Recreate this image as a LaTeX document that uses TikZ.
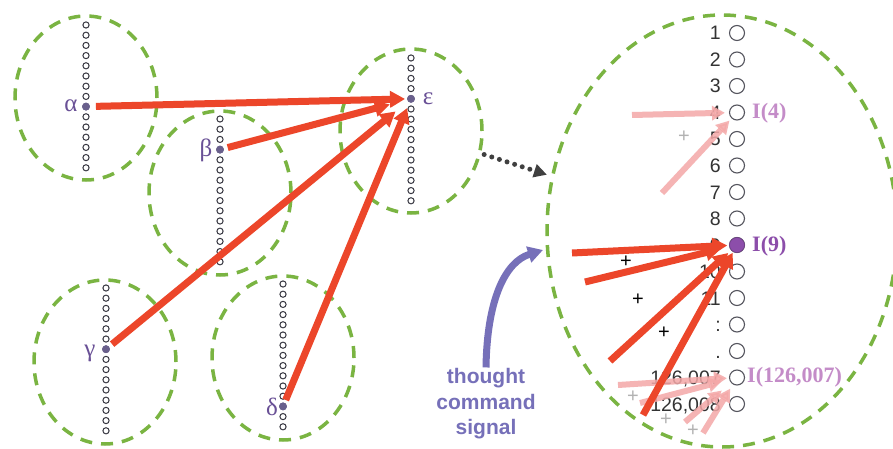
\documentclass[tikz,border=0pt]{standalone}
\usepackage{fontspec}
\setmainfont{Liberation Serif}
\setsansfont{Liberation Sans}
\usetikzlibrary{arrows.meta,shapes.geometric}
\definecolor{grn}{RGB}{122,180,66}
\definecolor{redA}{RGB}{236,70,42}
\definecolor{pinkA}{RGB}{244,168,168}
\definecolor{greek}{RGB}{105,80,150}
\definecolor{bluetxt}{RGB}{118,112,185}
\definecolor{purp}{RGB}{140,78,170}
\definecolor{lpurp}{RGB}{196,140,200}
\definecolor{dotgray}{RGB}{55,55,65}
\definecolor{afill}{RGB}{105,95,140}
\newcommand\dotcol[4]{%
  \foreach \i in {0,...,14}{\node[sdot] at (#1,{#2+10.2*\i}) {};}
  \node[adot] (#4) at (#1,{#2+10.2*#3}) {};}
\begin{document}
\begin{tikzpicture}[x=1pt,y=-1pt,
  region/.style={ellipse, draw=grn, line width=3.5pt, dash pattern=on 12pt off 9pt, inner sep=0pt, outer sep=0pt, minimum width=142pt, minimum height=164pt},
  bigregion/.style={region, minimum width=350pt, minimum height=432pt},
  sdot/.style={circle, draw=dotgray, line width=1pt, inner sep=0pt, minimum size=6.2pt, fill=white},
  adot/.style={circle, fill=afill, draw=afill, inner sep=0pt, minimum size=7.5pt},
  ring/.style={circle, draw=dotgray!85, line width=1.1pt, inner sep=0pt, minimum size=15pt, fill=white},
  greeklab/.style={text=greek, font=\fontsize{25}{25}\selectfont, inner sep=0pt},
  numlab/.style={font=\sffamily\fontsize{19.5}{20}\selectfont, text=black!80, anchor=east, inner sep=0pt, text height=14pt, text depth=0pt},
  ilab/.style={font=\bfseries\fontsize{22}{22}\selectfont, anchor=west, inner sep=0pt},
  redarrow/.style={draw=redA, line width=7pt, -{Triangle[length=15pt,width=16pt]}},
  pinkarrow/.style={draw=pinkA, line width=6pt, opacity=0.85, -{Triangle[length=13pt,width=14pt]}},
  dotarrow/.style={draw=black!75, line width=5pt, line cap=round, dash pattern=on 0pt off 8pt, -{Triangle[length=13pt,width=13pt]}},
  bluearrow/.style={draw=bluetxt, line width=7pt, -{Triangle[length=15pt,width=16pt]}},
  plus/.style={font=\sffamily\fontsize{20}{20}\selectfont, inner sep=0pt, text height=11pt, text depth=0pt},
  sigtext/.style={font=\sffamily\bfseries\fontsize{21}{25.5}\selectfont, text=bluetxt, align=center, inner sep=1pt}]
\useasboundingbox (0,0) rectangle (893,449);
\fill[white] (0,0) rectangle (893,449);

% regions
\node[region] (ca) at (86,98) {};
\node[region] (cb) at (220,193) {};
\node[region] (ce) at (411,131) {};
\node[region] (cg) at (105,362) {};
\node[region] (cd) at (283,358) {};
\node[bigregion] (big) at (722,231) {};

% dot columns
\dotcol{86}{25}{8}{a}
\dotcol{220}{119}{3}{b}
\dotcol{411}{58}{4}{e}
\dotcol{106}{288}{6}{g}
\dotcol{283}{284}{12}{d}

% greek labels
\node[greeklab] at (71,106) {α};
\node[greeklab] at (206,150) {β};
\node[greeklab] at (428,99) {ε};
\node[greeklab] at (90,353) {γ};
\node[greeklab] at (272,407) {δ};

% arrows to epsilon
\draw[redarrow, shorten <=6pt, shorten >=2pt] (a) -- (e);
\draw[redarrow, shorten <=4pt, shorten >=18pt] (b) -- (e);
\draw[redarrow, shorten <=4pt, shorten >=16pt] (g) -- (e);
\draw[redarrow, shorten <=3pt, shorten >=6pt] (d) -- (e);

% dotted arrow
\draw[dotarrow, shorten <=5pt, shorten >=6pt] (ce) -- (big);

% right column
\foreach \i in {1,...,15}{\node[ring] (r\i) at (737,{33+26.5*(\i-1)}) {};}
\node[circle, fill=purp, draw=purp!80!black, line width=0.6pt, inner sep=0pt, minimum size=15pt] (n9) at (r9) {};
\foreach \i/\t in {1/1,2/2,3/3,4/4,5/5,6/6,7/7,8/8,9/9,10/10,11/11,12/:,13/.,14/{126,007},15/{126,008}}{
  \node[numlab] at ([xshift=-8pt]r\i.west) {\t};}
\node[ilab, text=lpurp] at (752,113) {I(4)};
\node[ilab, text=purp] at (752,246) {I(9)};
\node[ilab, text=lpurp] at (747,377) {I(126,007)};

% tails
\coordinate (p1) at (632,115);
\coordinate (p2) at (662,193);
\coordinate (q1) at (572,253);
\coordinate (q2) at (585,282);
\coordinate (q3) at (610,361);
\coordinate (q4) at (643,415);
\coordinate (s1) at (618,385);
\coordinate (s2) at (640,403);
\coordinate (s3) at (685,422);
\coordinate (s4) at (703,433);

% pink arrows
\draw[pinkarrow, shorten >=4pt] (p1) -- (r4);
\draw[pinkarrow, shorten >=3pt] (p2) -- (r4);
\draw[pinkarrow, shorten >=2pt] (s1) -- (r14);
\draw[pinkarrow, shorten >=8pt] (s2) -- (r14);
\draw[pinkarrow, shorten >=12pt] (s3) -- (r14);
\draw[pinkarrow, shorten >=5pt] (s4) -- (r14);

% red arrows to 9
\draw[redarrow, shorten >=2pt] (q1) -- (n9);
\draw[redarrow, shorten >=9pt] (q2) -- (n9);
\draw[redarrow, shorten >=4pt] (q3) -- (n9);
\draw[redarrow, shorten >=1pt] (q4) -- (n9);

% plus signs
\node[plus] at (626,262) {+};
\node[plus] at (638,300) {+};
\node[plus] at (664,333) {+};
\node[plus, text=black!30] at (684,137) {+};
\node[plus, text=black!30] at (633,397) {+};
\node[plus, text=black!30] at (666,420) {+};
\node[plus, text=black!30] at (693,431) {+};

% thought command signal
\node[sigtext] (sig) at (486,404) {thought\\command\\signal};
\coordinate (sigtip) at (543,250);
\draw[bluearrow] (sig.north) .. controls (487,300) and (505,262) .. (sigtip);
\end{tikzpicture}
\end{document}
